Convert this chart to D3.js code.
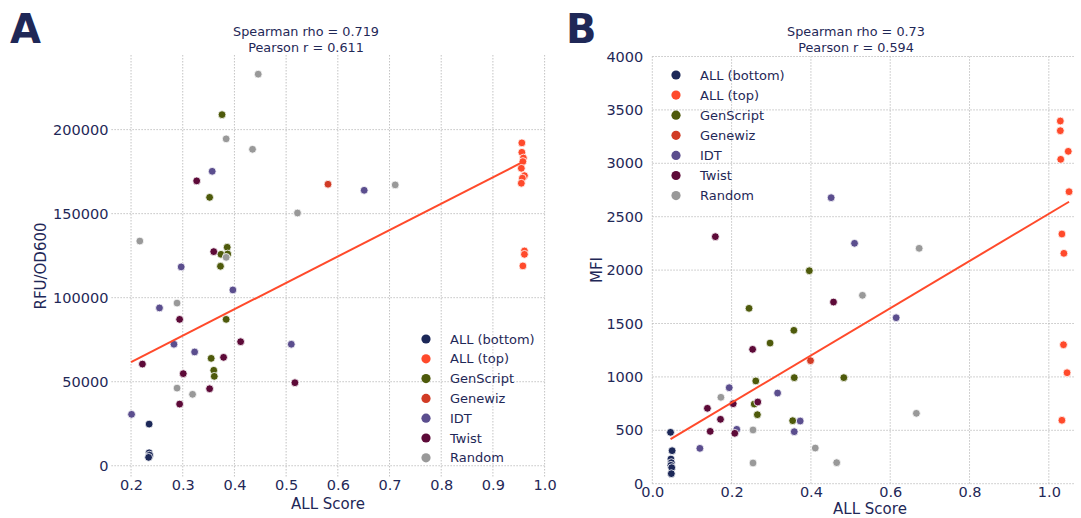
<!DOCTYPE html>
<html><head><meta charset="utf-8">
<script src="https://cdn.jsdelivr.net/npm/d3@7"></script>
<style>body{margin:0;background:#fff}svg{display:block}text{font-family:"DejaVu Sans",sans-serif}</style>
</head><body><svg id="c" width="1081" height="518"></svg>
<script>
// ---- categories & colours ----
const categories = ["ALL (bottom)","ALL (top)","GenScript","Genewiz","IDT","Twist","Random"];
const catColors = ["#1c2858","#ff4a2b","#4e5a0b","#d13b25","#5b4e8e","#5d0a38","#999999"];

// ---- Panel A (ALL Score vs RFU/OD600) ----
const aAllBottom = [[0.235,24800],[0.235,7700],[0.236,6300],[0.234,5000]];
const aAllTop = [[0.956,192100],[0.956,186500],[0.959,183100],[0.958,181000],[0.955,177000],[0.961,172600],[0.957,171100],[0.955,168100],[0.961,127800],[0.961,125800],[0.958,118900]];
const aGenScript = [[0.376,208900],[0.352,159700],[0.386,130000],[0.374,125800],[0.387,126000],[0.373,118700],[0.384,87100],[0.355,63900],[0.360,56800],[0.361,53200]];
const aGenewiz = [[0.581,167500]];
const aIDT = [[0.357,175200],[0.297,118300],[0.397,104600],[0.255,93900],[0.283,72300],[0.323,67700],[0.201,30600],[0.510,72300],[0.651,163900]];
const aTwist = [[0.327,169500],[0.360,127400],[0.294,87100],[0.412,73800],[0.222,60500],[0.379,64500],[0.301,54800],[0.352,45800],[0.294,36700],[0.517,49400]];
const aRandom = [[0.446,233000],[0.384,194500],[0.435,188300],[0.522,150400],[0.217,133700],[0.384,124000],[0.289,96800],[0.289,46200],[0.319,42500],[0.711,167100]];
const aLine = [[0.2,61700],[0.957,180600]];
const aXTicks = [0.2,0.3,0.4,0.5,0.6,0.7,0.8,0.9,1.0];
const aYTicks = [0,50000,100000,150000,200000];
const aTitle = ["Spearman rho = 0.719","Pearson r = 0.611"];

// ---- Panel B (ALL Score vs MFI) ----
const bAllBottom = [[0.046,481],[0.050,309],[0.047,231],[0.048,197],[0.047,172],[0.049,150],[0.048,94]];
const bAllTop = [[1.029,3396],[1.029,3305],[1.049,3112],[1.030,3037],[1.051,2734],[1.033,2338],[1.038,2157],[1.037,1301],[1.046,1039],[1.033,594]];
const bGenScript = [[0.396,1994],[0.244,1642],[0.357,1436],[0.297,1317],[0.358,993],[0.483,993],[0.261,962],[0.257,746],[0.265,646],[0.354,590]];
const bGenewiz = [[0.399,1152]];
const bIDT = [[0.451,2678],[0.510,2251],[0.615,1554],[0.194,899],[0.316,849],[0.373,587],[0.213,509],[0.358,487],[0.120,331]];
const bTwist = [[0.159,2313],[0.457,1701],[0.253,1258],[0.204,749],[0.266,765],[0.139,706],[0.172,603],[0.146,490],[0.208,472]];
const bRandom = [[0.673,2204],[0.530,1764],[0.173,809],[0.254,503],[0.411,334],[0.254,194],[0.465,197],[0.666,659]];
const bLine = [[0.046,418],[1.051,2640]];
const bXTicks = [0.0,0.2,0.4,0.6,0.8,1.0];
const bYTicks = [0,500,1000,1500,2000,2500,3000,3500,4000];
const bTitle = ["Spearman rho = 0.73","Pearson r = 0.594"];

const textColor = "#1f2857";
const svg = d3.select("#c");

function panel(o){
  const x = d3.scaleLinear().domain(o.xDom).range(o.xRange);
  const y = d3.scaleLinear().domain(o.yDom).range(o.yRange);
  const g = svg.append("g");
  // grid
  g.selectAll(".vg").data(o.xTicks).join("line")
    .attr("x1",d=>x(d)).attr("x2",d=>x(d)).attr("y1",o.yRange[0]).attr("y2",o.yRange[1])
    .attr("stroke","#b4b4b4").attr("stroke-width",0.8).attr("stroke-dasharray","1.5,1.5");
  g.selectAll(".hg").data(o.yTicks).join("line")
    .attr("y1",d=>y(d)).attr("y2",d=>y(d)).attr("x1",o.xRange[0]).attr("x2",o.xRange[1])
    .attr("stroke","#b4b4b4").attr("stroke-width",0.8).attr("stroke-dasharray","1.5,1.5");
  // axes (labels only)
  const xa = g.append("g").attr("transform",`translate(0,${o.yRange[0]})`)
    .call(d3.axisBottom(x).tickValues(o.xTicks).tickFormat(d3.format(".1f")).tickSize(0).tickPadding(3));
  const ya = g.append("g").attr("transform",`translate(${o.xRange[0]},0)`)
    .call(d3.axisLeft(y).tickValues(o.yTicks).tickFormat(d3.format("d")).tickSize(0).tickPadding(o.yPad));
  [xa,ya].forEach(a=>{a.select(".domain").remove();a.selectAll("text").attr("fill",textColor).attr("font-size",14.5).attr("font-family","DejaVu Sans");});
  // points
  o.series.forEach((s,i)=>{
    g.append("g").selectAll("circle").data(s).join("circle")
      .attr("cx",d=>x(d[0])).attr("cy",d=>y(d[1])).attr("r",3.9)
      .attr("fill",catColors[i]).attr("stroke","#fff").attr("stroke-width",0.8);
  });
  // regression line
  g.append("path").datum(o.line)
    .attr("d",d3.line().x(d=>x(d[0])).y(d=>y(d[1])))
    .attr("stroke","#ff4a2b").attr("stroke-width",2).attr("fill","none");
  // title
  o.title.forEach((t,i)=>g.append("text").attr("x",o.titleX).attr("y",36+i*15.5)
    .attr("text-anchor","middle").attr("font-size",12.8).attr("fill",textColor).text(t));
  // axis labels
  g.append("text").attr("x",o.xLabelX).attr("y",o.xLabelY).attr("text-anchor","middle")
    .attr("font-size",15).attr("fill",textColor).text("ALL Score");
  g.append("text").attr("transform",`translate(${o.yLabelX},${o.yLabelY}) rotate(-90)`)
    .attr("text-anchor","middle").attr("font-size",15).attr("fill",textColor).text(o.yLabel);
  // panel letter
  g.append("text").attr("x",o.letterX).attr("y",43).attr("font-size",40).attr("font-weight","bold")
    .attr("fill",textColor).text(o.letter);
  // legend
  const lg = g.append("g");
  categories.forEach((c,i)=>{
    lg.append("circle").attr("cx",o.legX).attr("cy",o.legY+i*o.legStep).attr("r",4.6).attr("fill",catColors[i]);
    lg.append("text").attr("x",o.legX+24).attr("y",o.legY+i*o.legStep).attr("dy","0.35em")
      .attr("font-size",13).attr("fill",textColor).text(c);
  });
}

panel({xDom:[0.162,1.0],xRange:[111.4,544.6],yDom:[-6400,244400],yRange:[476.5,55],
  xTicks:aXTicks,yTicks:aYTicks,yPad:3,series:[aAllBottom,aAllTop,aGenScript,aGenewiz,aIDT,aTwist,aRandom],
  line:aLine,title:aTitle,titleX:306,xLabelX:328,xLabelY:509,yLabel:"RFU/OD600",yLabelX:46,yLabelY:266,letter:"A",letterX:10,
  legX:426,legY:339,legStep:19.8});
panel({xDom:[0,1.065],xRange:[652.3,1074.6],yDom:[0,4000],yRange:[483.7,56.5],
  xTicks:bXTicks,yTicks:bYTicks,yPad:9,series:[bAllBottom,bAllTop,bGenScript,bGenewiz,bIDT,bTwist,bRandom],
  line:bLine,title:bTitle,titleX:856,xLabelX:870,xLabelY:514,yLabel:"MFI",yLabelX:602,yLabelY:270,letter:"B",letterX:566,
  legX:676,legY:75,legStep:20.1});
</script></body></html>
